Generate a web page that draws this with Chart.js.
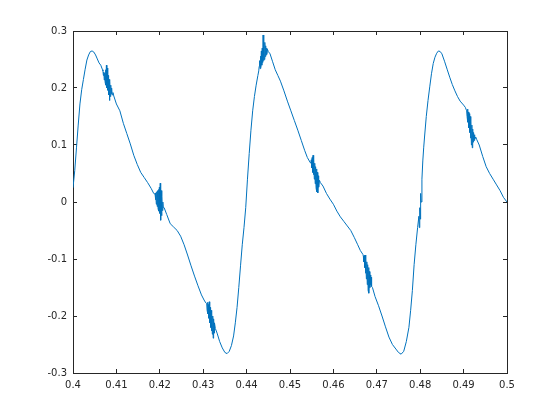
<!DOCTYPE html>
<html>
<head>
<meta charset="utf-8">
<script src="https://cdn.jsdelivr.net/npm/chart.js@4/dist/chart.umd.min.js"></script>
<style>
  body { margin: 0; background: #fff; }
  #wrap { width: 560px; height: 420px; }
</style>
</head>
<body>
<div id="wrap"><canvas id="signalChart" width="560" height="420"></canvas></div>
<script>
// samples (time, amplitude); one line of x per line of y
const xVals = [
  0.4000, 0.4004, 0.4008, 0.4012, 0.4016, 0.4020, 0.4024, 0.4028, 0.4032, 0.4036,
  0.4040, 0.4044, 0.4048, 0.4052, 0.4056, 0.4060, 0.4064, 0.4068,
  0.4069, 0.4070, 0.4071, 0.4072, 0.4073, 0.4074, 0.4075, 0.4076, 0.4077, 0.4078, 0.4079, 0.4080,
  0.4081, 0.4082, 0.4083, 0.4084, 0.4085, 0.4086, 0.4087, 0.4088, 0.4089, 0.4090, 0.4092, 0.4094,
  0.4100, 0.4108, 0.4116, 0.4124, 0.4132, 0.4140, 0.4148, 0.4156, 0.4164, 0.4172, 0.4180, 0.4186,
  0.4189, 0.4190, 0.4191, 0.4192, 0.4193, 0.4194, 0.4195, 0.4196, 0.4197, 0.4198, 0.4199,
  0.4200, 0.4201, 0.4202, 0.4203, 0.4204, 0.4205, 0.4206, 0.4207, 0.4208, 0.4210,
  0.4216, 0.4224, 0.4232, 0.4240, 0.4248, 0.4256, 0.4264, 0.4272, 0.4280, 0.4288, 0.4296, 0.4302, 0.4306,
  0.4308, 0.4309, 0.4310, 0.4311, 0.4312, 0.4313, 0.4314, 0.4315, 0.4316, 0.4317,
  0.4318, 0.4319, 0.4320, 0.4321, 0.4322, 0.4323, 0.4324, 0.4325, 0.4326, 0.4328,
  0.4332, 0.4338, 0.4344, 0.4350, 0.4355, 0.4360, 0.4365, 0.4370, 0.4374, 0.4378, 0.4382, 0.4386,
  0.4390, 0.4394, 0.4398, 0.4402, 0.4406, 0.4410, 0.4414, 0.4418, 0.4422, 0.4426, 0.4428,
  0.4429, 0.4430, 0.4431, 0.4432, 0.4433, 0.4434, 0.4435, 0.4436, 0.4437, 0.4438,
  0.4439, 0.4440, 0.4441, 0.4442, 0.4443, 0.4444, 0.4445, 0.4446, 0.4447, 0.4448, 0.4450,
  0.4454, 0.4460, 0.4466, 0.4472, 0.4478, 0.4486, 0.4494, 0.4502, 0.4510, 0.4518, 0.4526, 0.4534, 0.4540, 0.4546,
  0.4548, 0.4549, 0.4550, 0.4551, 0.4552, 0.4553, 0.4554, 0.4555, 0.4556, 0.4557,
  0.4558, 0.4559, 0.4560, 0.4561, 0.4562, 0.4563, 0.4564, 0.4565, 0.4566, 0.4568, 0.4570,
  0.4576, 0.4584, 0.4592, 0.4600, 0.4608, 0.4616, 0.4624, 0.4632, 0.4640, 0.4648, 0.4656, 0.4662, 0.4668,
  0.4669, 0.4670, 0.4671, 0.4672, 0.4673, 0.4674, 0.4675, 0.4676, 0.4677, 0.4678,
  0.4679, 0.4680, 0.4681, 0.4682, 0.4683, 0.4684, 0.4685, 0.4686, 0.4687, 0.4688, 0.4690,
  0.4696, 0.4704, 0.4712, 0.4720, 0.4728, 0.4736, 0.4744, 0.4750, 0.4756, 0.4762, 0.4768, 0.4774,
  0.4778, 0.4782, 0.4786, 0.4790, 0.4794, 0.4797,
  0.4798, 0.4799, 0.4800, 0.4801, 0.4802, 0.4804, 0.4806, 0.4808, 0.4810, 0.4814, 0.4818, 0.4822,
  0.4826, 0.4830, 0.4834, 0.4838, 0.4842, 0.4846, 0.4850, 0.4856, 0.4862, 0.4868, 0.4874, 0.4880,
  0.4886, 0.4892, 0.4900, 0.4904,
  0.4907, 0.4908, 0.4909, 0.4910, 0.4911, 0.4912, 0.4913, 0.4914, 0.4915, 0.4916,
  0.4917, 0.4918, 0.4919, 0.4920, 0.4921, 0.4922, 0.4923, 0.4924, 0.4925, 0.4926, 0.4928, 0.4930,
  0.4936, 0.4944, 0.4952, 0.4960, 0.4968, 0.4976, 0.4984, 0.4992, 0.5000
];
const yVals = [
  0.025, 0.055, 0.095, 0.135, 0.172, 0.197, 0.215, 0.233, 0.249, 0.258,
  0.264, 0.265, 0.263, 0.258, 0.251, 0.244, 0.240, 0.232,
  0.230, 0.222, 0.228, 0.214, 0.226, 0.210, 0.232, 0.205, 0.240, 0.200, 0.235, 0.196,
  0.222, 0.188, 0.215, 0.178, 0.212, 0.185, 0.205, 0.190, 0.200, 0.188, 0.192, 0.186,
  0.172, 0.160, 0.138, 0.120, 0.102, 0.082, 0.066, 0.052, 0.043, 0.034, 0.024, 0.015,
  0.014, 0.004, 0.016, -0.004, 0.018, -0.008, 0.020, -0.012, 0.022, -0.016, 0.026,
  -0.020, 0.033, -0.032, 0.020, -0.024, 0.010, -0.015, 0.000, -0.010, -0.010,
  -0.022, -0.038, -0.044, -0.050, -0.060, -0.075, -0.093, -0.112, -0.130, -0.147, -0.163, -0.172, -0.177,
  -0.178, -0.190, -0.176, -0.196, -0.180, -0.204, -0.175, -0.212, -0.185, -0.220,
  -0.190, -0.226, -0.195, -0.232, -0.200, -0.239, -0.205, -0.230, -0.212, -0.222,
  -0.230, -0.245, -0.256, -0.264, -0.266, -0.262, -0.252, -0.235, -0.212, -0.185, -0.150, -0.112,
  -0.075, -0.045, -0.010, 0.040, 0.085, 0.126, 0.160, 0.185, 0.205, 0.222, 0.230,
  0.238, 0.248, 0.234, 0.256, 0.236, 0.265, 0.240, 0.270, 0.245, 0.293,
  0.248, 0.276, 0.250, 0.280, 0.255, 0.274, 0.258, 0.270, 0.260, 0.268, 0.264,
  0.260, 0.246, 0.232, 0.222, 0.212, 0.195, 0.177, 0.160, 0.143, 0.126, 0.108, 0.090, 0.078, 0.070,
  0.068, 0.074, 0.060, 0.078, 0.052, 0.082, 0.048, 0.075, 0.040, 0.068,
  0.032, 0.062, 0.025, 0.058, 0.018, 0.052, 0.016, 0.046, 0.026, 0.038, 0.034,
  0.028, 0.015, 0.005, -0.004, -0.016, -0.026, -0.034, -0.042, -0.050, -0.062, -0.075, -0.085, -0.092,
  -0.095, -0.105, -0.094, -0.115, -0.093, -0.125, -0.100, -0.135, -0.105, -0.145,
  -0.110, -0.155, -0.115, -0.160, -0.122, -0.150, -0.128, -0.145, -0.132, -0.148, -0.150,
  -0.166, -0.182, -0.200, -0.219, -0.237, -0.250, -0.258, -0.264, -0.267, -0.262, -0.245, -0.220,
  -0.190, -0.155, -0.110, -0.075, -0.045, -0.025,
  -0.045, -0.010, -0.030, 0.015, 0.000, 0.040, 0.072, 0.095, 0.114, 0.150, 0.178, 0.202,
  0.225, 0.243, 0.254, 0.261, 0.265, 0.264, 0.260, 0.247, 0.233, 0.219, 0.206, 0.195,
  0.185, 0.177, 0.170, 0.166,
  0.160, 0.150, 0.163, 0.140, 0.158, 0.130, 0.155, 0.122, 0.150, 0.112,
  0.142, 0.100, 0.135, 0.095, 0.128, 0.105, 0.122, 0.108, 0.118, 0.110, 0.114, 0.110,
  0.100, 0.080, 0.062, 0.050, 0.040, 0.030, 0.020, 0.008, 0.000
];

const xTicks = [0.4, 0.41, 0.42, 0.43, 0.44, 0.45, 0.46, 0.47, 0.48, 0.49, 0.5];
const xTickLabels = ['0.4', '0.41', '0.42', '0.43', '0.44', '0.45', '0.46', '0.47', '0.48', '0.49', '0.5'];
const yTicks = [-0.3, -0.2, -0.1, 0, 0.1, 0.2, 0.3];
const yTickLabels = ['-0.3', '-0.2', '-0.1', '0', '0.1', '0.2', '0.3'];

const axisColor = '#262626';
const tickFont = { family: 'DejaVu Sans', size: 10 };

function axis(position, ticks, labels, showLabels, min, max, pad) {
  return {
    type: 'linear',
    position: position,
    min: min,
    max: max,
    afterBuildTicks: scale => { scale.ticks = ticks.map(v => ({ value: v })); },
    afterFit: scale => {
      if (position === 'left') scale.width = 73;
      if (position === 'right') scale.width = 53;
      if (position === 'bottom') scale.height = 47;
      if (position === 'top') scale.height = 31;
    },
    grid: {
      drawOnChartArea: false,
      drawTicks: true,
      tickLength: -4,
      tickColor: axisColor,
      tickWidth: 1
    },
    border: { display: true, color: axisColor, width: 1 },
    ticks: {
      display: showLabels,
      color: axisColor,
      font: tickFont,
      padding: pad,
      maxRotation: 0,
      autoSkip: false,
      callback: (value, index) => labels[index]
    }
  };
}

const points = xVals.map((x, i) => ({ x: x, y: yVals[i] }));

new Chart(document.getElementById('signalChart'), {
  type: 'line',
  data: {
    datasets: [{
      data: points,
      borderColor: '#0072BD',
      borderWidth: 1,
      pointRadius: 0,
      tension: 0,
      fill: false
    }]
  },
  options: {
    responsive: false,
    animation: false,
    layout: { padding: 0 },
    plugins: {
      legend: { display: false },
      tooltip: { enabled: false }
    },
    scales: {
      x: axis('bottom', xTicks, xTickLabels, true, 0.4, 0.5, 10),
      x2: axis('top', xTicks, xTickLabels, false, 0.4, 0.5, 0),
      y: axis('left', yTicks, yTickLabels, true, -0.3, 0.3, 10),
      y2: axis('right', yTicks, yTickLabels, false, -0.3, 0.3, 0)
    }
  }
});
</script>
</body>
</html>
